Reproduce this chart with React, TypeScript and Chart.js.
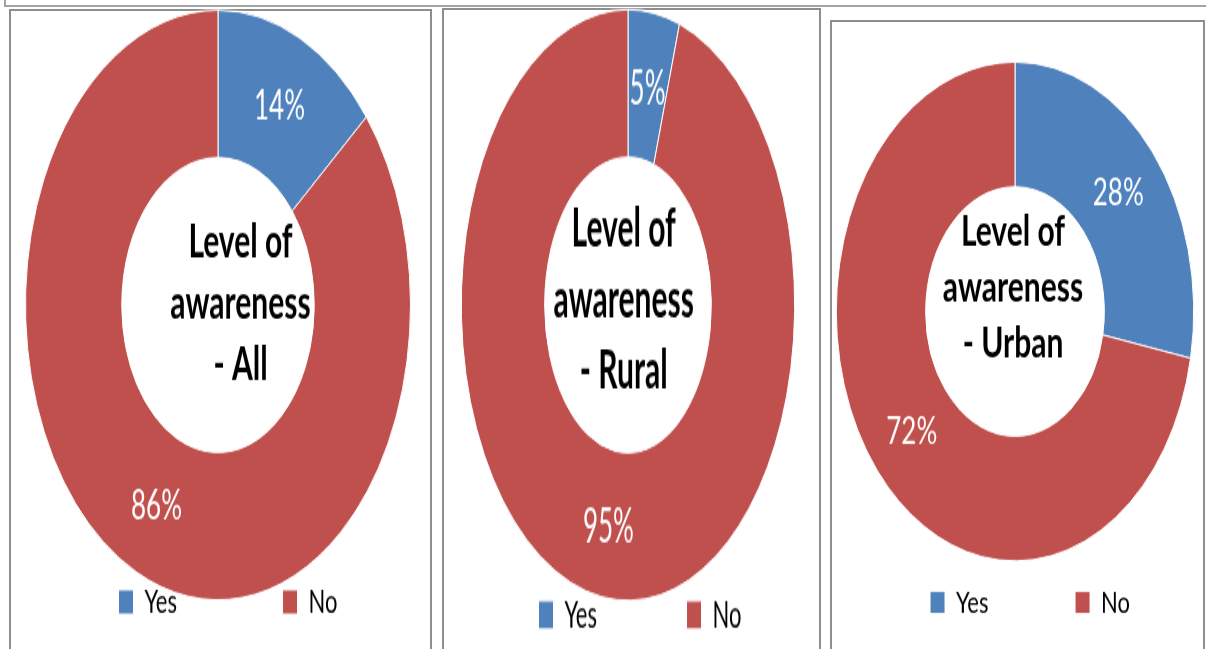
import React, { useEffect, useRef } from "react";
import { Chart, registerables } from "chart.js";

Chart.register(...registerables);

// ---------- data ----------
const categories = ["Yes", "No"];
const allValues = [14, 86];
const ruralValues = [5, 95];
const urbanValues = [28, 72];
const titleAll = ["Level of", "awareness", "- All"];
const titleRural = ["Level of", "awareness", "- Rural"];
const titleUrban = ["Level of", "awareness", "- Urban"];
const sliceColors = ["#4F81BD", "#C0504D"];

// ---------- layout / style ----------
const FONT = '"Lato", "Liberation Sans Narrow", sans-serif';
const LEG_FONT = 22;
const LABEL_FONT = 26;
const TITLE_FONT = 30;
const TITLE_LINE = 40;
const CW = 500;

type PanelCfg = {
  values: number[];
  title: string[];
  cx: number; // final page x of doughnut centre
  cy: number; // final page y of doughnut centre
  r: number; // outer radius (horizontal)
  s: number; // vertical stretch
  legendShift: number; // legend group centre minus doughnut centre
  legendMid: number; // final y of legend row middle
  legendGap: number; // distance Yes box -> No box
  textDx: number;
  textDy: number;
  labelOffsets: number[][];
  box: { left: number; top: number; width: number };
};

const PANELS: PanelCfg[] = [
  {
    values: allValues,
    title: titleAll,
    cx: 217.5,
    cy: 305,
    r: 192.5,
    s: 1.532,
    legendShift: 10,
    legendMid: 602,
    legendGap: 164,
    textDx: 22.5,
    textDy: 8.5,
    labelOffsets: [[0, 1], [0, 1]],
    box: { left: 9, top: 9, width: 423 },
  },
  {
    values: ruralValues,
    title: titleRural,
    cx: 628.3,
    cy: 305,
    r: 166.7,
    s: 1.773,
    legendShift: 12,
    legendMid: 615,
    legendGap: 148,
    textDx: -4.3,
    textDy: 7.4,
    labelOffsets: [[0, 2], [0, 2]],
    box: { left: 442, top: 8, width: 379 },
  },
  {
    values: urbanValues,
    title: titleUrban,
    cx: 1015.3,
    cy: 311.5,
    r: 178.7,
    s: 1.396,
    legendShift: 15,
    legendMid: 602.5,
    legendGap: 145,
    textDx: -2,
    textDy: -6.8,
    labelOffsets: [[0, 1], [0, 1]],
    box: { left: 830, top: 20, width: 375 },
  },
];

function DonutPanel({ cfg }: { cfg: PanelCfg }) {
  const ref = useRef<HTMLCanvasElement>(null);
  const CH = Math.ceil(649 / cfg.s) + 20;

  useEffect(() => {
    const canvas = ref.current!;
    const mctx = canvas.getContext("2d")!;
    mctx.font = `${LEG_FONT}px ${FONT}`;
    const boxW = 15;
    const boxH = 16;
    const w1 = boxW + LEG_FONT / 2 + mctx.measureText(categories[0]).width;
    const p = cfg.legendGap - w1;
    const itemH = Math.max(LEG_FONT, boxH);
    const lm = cfg.legendMid / cfg.s;
    const itemY = lm - itemH / 2;
    const padBottom = CH - itemY - itemH - 10;
    const cyc = cfg.cy / cfg.s;
    const padTop = 2 * cyc - itemY + p;

    const labelPlugin = {
      id: "donutText",
      afterDatasetsDraw(chart: any) {
        const meta = chart.getDatasetMeta(0);
        const data: number[] = chart.data.datasets[0].data;
        const total = data.reduce((a, b) => a + b, 0);
        const ctx = chart.ctx;
        ctx.save();
        ctx.fillStyle = "#ffffff";
        ctx.textAlign = "center";
        ctx.textBaseline = "middle";
        ctx.font = `${LABEL_FONT}px ${FONT}`;
        meta.data.forEach((arc: any, i: number) => {
          const pos = arc.tooltipPosition(false);
          const txt = Math.round((data[i] / total) * 100) + "%";
          const off = cfg.labelOffsets[i];
          ctx.fillText(txt, pos.x + off[0], pos.y + off[1]);
        });
        const c = meta.data[0];
        ctx.fillStyle = "#000000";
        ctx.textBaseline = "alphabetic";
        ctx.font = `bold ${TITLE_FONT}px ${FONT}`;
        cfg.title.forEach((line, k) => {
          ctx.fillText(line, c.x + cfg.textDx, c.y + cfg.textDy + (k - 1) * TITLE_LINE);
        });
        ctx.restore();
      },
    };

    const chart = new Chart(canvas, {
      type: "doughnut",
      data: {
        labels: categories,
        datasets: [
          {
            data: cfg.values,
            backgroundColor: sliceColors,
            borderColor: "#ffffff",
            borderWidth: 1,
            radius: cfg.r,
            cutout: "50%",
            clip: false,
          } as any,
        ],
      },
      options: {
        responsive: false,
        animation: false,
        devicePixelRatio: 1,
        layout: { padding: { top: padTop, bottom: padBottom, left: 0, right: 0 } },
        plugins: {
          legend: {
            position: "bottom",
            align: "center",
            fullSize: true,
            labels: {
              boxWidth: boxW,
              boxHeight: boxH,
              padding: p,
              color: "#000000",
              font: { family: FONT, size: LEG_FONT },
            },
          },
          // empty spacer on the right: shifts the doughnut left of the legend centre
          title: {
            display: true,
            text: "",
            position: "right",
            fullSize: false,
            font: { size: 1, lineHeight: 1 },
            padding: { top: 2 * cfg.legendShift - 1, bottom: 0 },
          },
          tooltip: { enabled: false },
        },
      } as any,
      plugins: [labelPlugin],
    });
    return () => chart.destroy();
  }, []);

  return (
    <div
      style={{
        position: "absolute",
        left: cfg.cx + cfg.legendShift - CW / 2,
        top: 0,
        width: CW,
        height: CH,
        transform: `scaleY(${cfg.s})`,
        transformOrigin: "0 0",
      }}
    >
      <canvas ref={ref} width={CW} height={CH} />
    </div>
  );
}

export default function App() {
  return (
    <div
      style={{
        position: "absolute",
        left: 0,
        top: 0,
        width: 1206,
        height: 649,
        overflow: "hidden",
        background: "#ffffff",
      }}
    >
      <div
        style={{
          position: "absolute",
          left: 4,
          top: -10,
          width: 1220,
          height: 17,
          boxSizing: "border-box",
          borderLeft: "2px solid #a3a3a3",
          borderBottom: "2px solid #a3a3a3",
        }}
      />
      {PANELS.map((cfg, i) => (
        <div
          key={"b" + i}
          style={{
            position: "absolute",
            left: cfg.box.left,
            top: cfg.box.top,
            width: cfg.box.width,
            height: 700,
            boxSizing: "border-box",
            border: "2px solid #8e8e8e",
          }}
        />
      ))}
      {PANELS.map((cfg, i) => (
        <DonutPanel key={"p" + i} cfg={cfg} />
      ))}
    </div>
  );
}
